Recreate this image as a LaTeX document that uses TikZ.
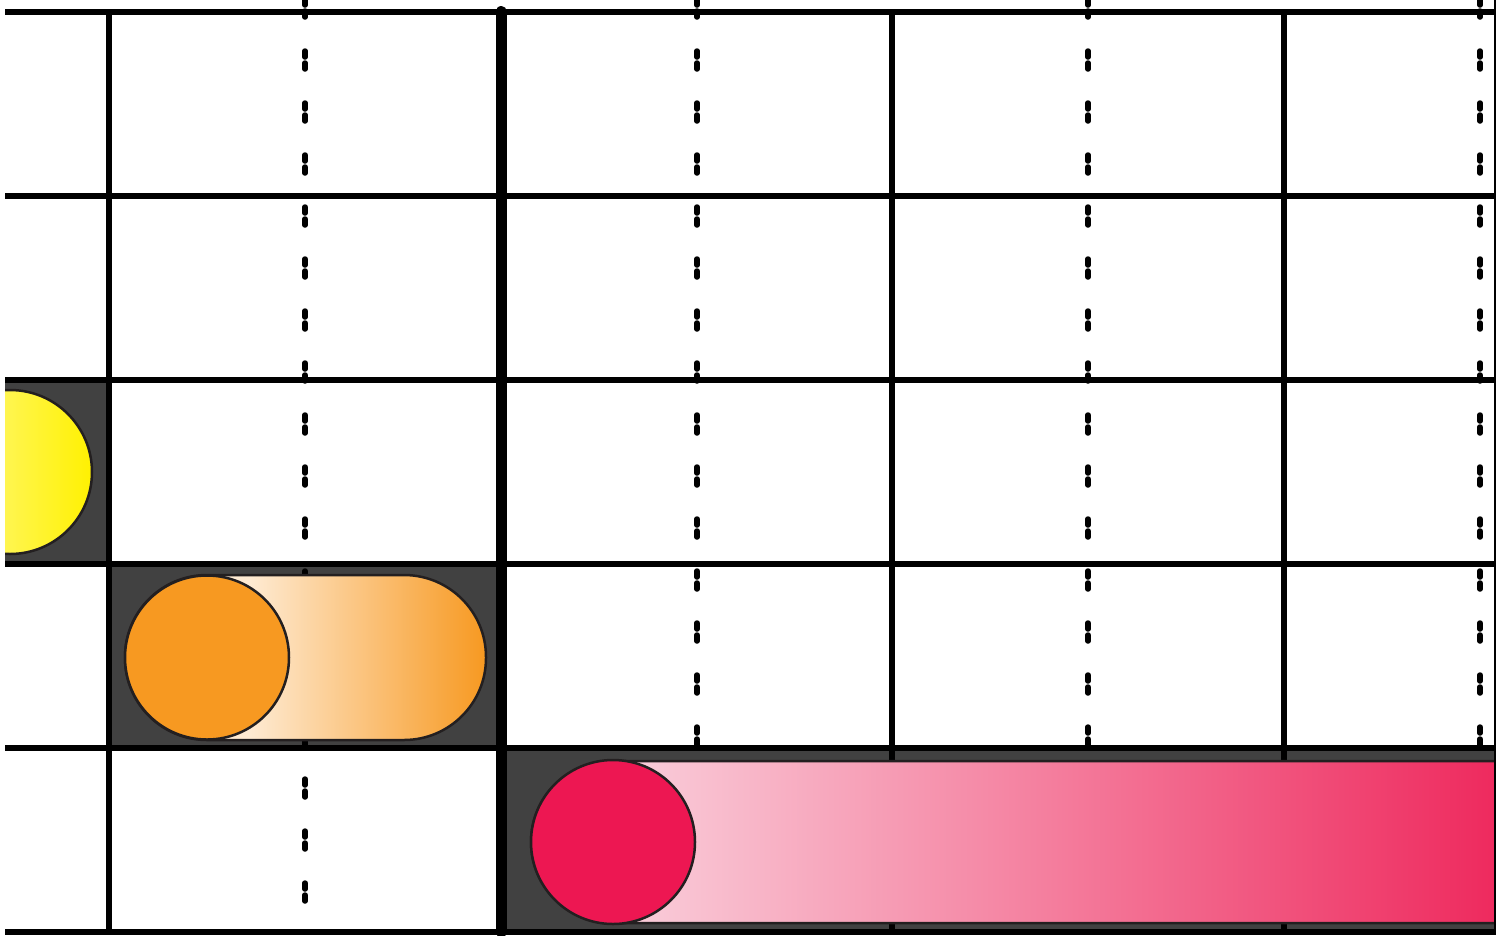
\documentclass[tikz,border=0pt]{standalone}
\usepackage{xcolor}
\definecolor{cellgray}{RGB}{65,65,65}
\definecolor{knobyellow}{RGB}{255,241,0}
\definecolor{lightyellow}{RGB}{255,245,80}
\definecolor{knoborange}{RGB}{247,153,33}
\definecolor{lightorange}{RGB}{254,234,210}
\definecolor{knobred}{RGB}{237,23,82}
\definecolor{lightpink}{RGB}{250,208,220}
\definecolor{deeppink}{RGB}{238,42,94}
\definecolor{knobedge}{RGB}{35,31,32}
\usepackage{tikz}

\begin{document}
\begin{tikzpicture}[x=1pt, y=-1pt,
    gridline/.style={line width=5.5pt},
    splitline/.style={line width=11pt, line cap=round},
    halfline/.style={line width=5.5pt, line cap=round,
                     dash pattern=on 6pt off 6pt on 6pt off 34pt},
    cellfill/.style={fill=cellgray},
    knob/.style={draw=knobedge, line width=2.5pt},
    track/.style={draw=knobedge, line width=2.5pt},
  ]
    \useasboundingbox (0,0) rectangle (1509,935);
    \begin{scope}
      \clip (5,0) rectangle (1495,935);
      \fill[cellfill] (5,380)   rectangle (109,564);
      \fill[cellfill] (109,564) rectangle (501,748);
      \fill[cellfill] (501,748) rectangle (1495,932);

      \foreach \x in {305,697,1088,1480}
        \draw[halfline] (\x,-1) -- (\x,929);
      \foreach \y in {12,196,380,564,748,932}
        \draw[gridline] (5,\y) -- (1495,\y);
      \foreach \x in {109,892,1284}
        \draw[gridline] (\x,12) -- (\x,932);
      \draw[splitline] (501,11.5) -- (501,932);

      % yellow knob
      \begin{scope}
        \clip (10,472) circle (82pt);
        \shade[left color=lightyellow, right color=knobyellow] (5,388) rectangle (93,556);
      \end{scope}
      \draw[knob] (10,472) circle (82pt);

      % orange switch
      \begin{scope}
        \clip[rounded corners=82pt] (125,575) rectangle (486,740);
        \fill[lightorange] (125,575) rectangle (250,740);
        \shade[left color=lightorange, right color=knoborange] (250,575) rectangle (486,740);
      \end{scope}
      \draw[track, rounded corners=82pt] (125,575) rectangle (486,740);
      \draw[knob, fill=knoborange] (207,657.5) circle (82pt);

      % red switch
      \begin{scope}
        \clip[rounded corners=81pt] (531,761) rectangle (1700,923);
        \fill[lightpink] (531,761) rectangle (613,923);
        \shade[left color=lightpink, right color=deeppink] (613,761) rectangle (1495,923);
      \end{scope}
      \draw[track, rounded corners=81pt] (531,761) rectangle (1700,923);
      \draw[knob, fill=knobred] (613,842) circle (82pt);
    \end{scope}
    \draw[line width=1.2pt] (1495,0) -- (1495,935);
  \end{tikzpicture}
\end{document}
